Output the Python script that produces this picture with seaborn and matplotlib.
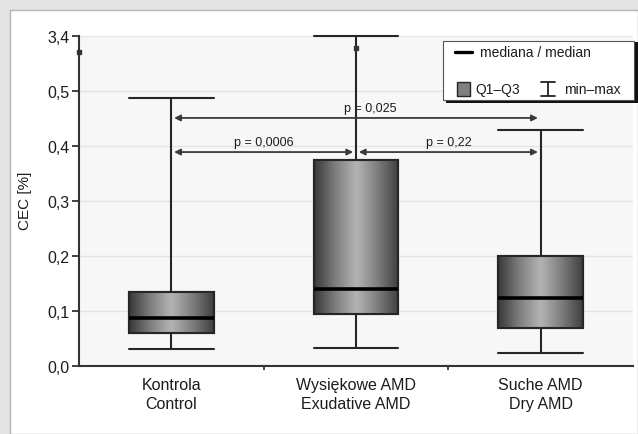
import matplotlib
matplotlib.use("Agg")
import matplotlib.pyplot as plt
from matplotlib.colors import LinearSegmentedColormap
from matplotlib.patches import Rectangle
import numpy as np
import pandas as pd
import seaborn as sns

# values (CEC %)
groups = ["Kontrola\nControl", "Wysiękowe AMD\nExudative AMD", "Suche AMD\nDry AMD"]
mins = [0.031, 0.033, 0.023]
q1 = [0.060, 0.095, 0.070]
medians = [0.088, 0.140, 0.123]
q3 = [0.135, 0.375, 0.200]
maxs = [0.487, 3.4, 0.430]

y_ticks = [0.0, 0.1, 0.2, 0.3, 0.4, 0.5, 3.4]
y_labels = ["0,0", "0,1", "0,2", "0,3", "0,4", "0,5", "3,4"]

# (from group, to group, label)
comparisons = [(0, 2, "p = 0,025"), (0, 1, "p = 0,0006"), (1, 2, "p = 0,22")]


def squash(v):
    """broken axis: everything above 0,55 is pulled down so 3,4 sits at 0,6"""
    return v if v <= 0.55 else 0.55 + (v - 3.35)


W, H = 638, 435


def px(x, y):
    """pixel position of the reference -> figure fraction"""
    return x / W, 1 - y / H


sns.set_theme(style="white")
plt.rcParams["font.family"] = ["Liberation Sans", "DejaVu Sans"]
TXT = "#1c1c1c"

fig = plt.figure(figsize=(W / 100, H / 100), dpi=100, facecolor="#e3e3e3")
fig.add_artist(Rectangle(px(10, 435), (W - 10) / W, (435 - 11) / H,
                         transform=fig.transFigure, facecolor="white",
                         edgecolor="#b5b5b5", lw=1.0, zorder=0))
ax = fig.add_axes([79 / W, 1 - 367 / H, 554 / W, 330 / H])
ax.set_facecolor("#f7f7f7")

# five points per group -> quartiles of the box are exactly the read values
rows = []
for g, a, b, c, d, e in zip(groups, mins, q1, medians, q3, maxs):
    for v in (a, b, c, d, e):
        rows.append({"group": g, "value": squash(v)})
df = pd.DataFrame(rows)

sns.boxplot(data=df, x="group", y="value", order=groups, width=0.46,
            whis=(0, 100), fliersize=0, color="#8c8c8c", linecolor="#262626",
            linewidth=1.5, capwidths=0.46,
            medianprops=dict(color="black", linewidth=2.6), ax=ax)

# shaded (cylinder-like) fill of the boxes
cmap = LinearSegmentedColormap.from_list(
    "box", ["#383838", "#7e7e7e", "#b4b4b4", "#7e7e7e", "#3e3e3e"])
grad = np.linspace(0, 1, 256).reshape(1, -1)
for patch in list(ax.patches):
    ext = patch.get_path().get_extents()
    im = ax.imshow(grad, cmap=cmap, aspect="auto", zorder=2.05,
                   extent=[ext.x0, ext.x1, ext.y0, ext.y1])
    im.set_clip_path(patch)
    ax.add_patch(Rectangle((ext.x0, ext.y0), ext.width, ext.height,
                           facecolor="none", edgecolor="#262626", lw=1.5,
                           zorder=2.2))
for ln in ax.lines:
    ln.set_zorder(2.3)
    ln.set_clip_on(False)

ax.set_xlim(-0.5, 2.5)
ax.set_ylim(0, 0.6)

# axis break marks
ax.plot([-0.5], [0.571], marker="s", ms=3, color="#333333", clip_on=False, zorder=4)
ax.plot([1], [0.578], marker="s", ms=3, color="#333333", clip_on=False, zorder=4)

ax.set_yticks([squash(v) for v in y_ticks])
ax.set_yticklabels(y_labels)
ax.set_xticks(range(len(groups)))
ax.set_xticklabels(groups, linespacing=1.3)
ax.set_xticks([0.5, 1.5], minor=True)
ax.tick_params(axis="y", length=5, width=1.3, color="#333333", labelsize=11.5,
               pad=2, labelcolor=TXT, left=True)
ax.tick_params(axis="x", which="major", length=0, labelsize=11.5, pad=8,
               labelcolor=TXT)
ax.tick_params(axis="x", which="minor", length=3, width=1.3, color="#333333",
               bottom=True)
ax.set_xlabel("")
ax.set_ylabel("")
ax.yaxis.grid(True, color="#e3e3e3", lw=1)
ax.set_axisbelow(True)
for side in ("top", "right"):
    ax.spines[side].set_visible(False)
for side in ("left", "bottom"):
    ax.spines[side].set_color("#333333")
    ax.spines[side].set_linewidth(1.5)

# p-value arrows
arrow_y = {2: 0.451, 1: 0.389}
text_dx = {2: 0.075, 1: 0.0}
for i, j, lab in comparisons:
    y = arrow_y[j - i]
    x0, x1 = i + 0.015, j - 0.015
    ax.annotate("", xy=(x1, y), xytext=(x0, y),
                arrowprops=dict(arrowstyle="<|-|>", color="#3a3a3a", lw=1.3,
                                shrinkA=0, shrinkB=0, mutation_scale=9))
    ax.text((x0 + x1) / 2 + text_dx[j - i], y + 0.008, lab, ha="center",
            va="bottom", fontsize=9, color=TXT)

fig.text(*px(25, 201), "CEC [%]", rotation=90, ha="center", va="center",
         fontsize=11, color=TXT)

# legend drawn by hand (two rows, as in the original)
fig.add_artist(Rectangle(px(446, 104), 192 / W, 61 / H, transform=fig.transFigure,
                         facecolor="#111111", edgecolor="none", zorder=5))
fig.add_artist(Rectangle(px(443, 101), 191 / W, 59 / H, transform=fig.transFigure,
                         facecolor="white", edgecolor="#555555", lw=0.8, zorder=6))
fig.add_artist(plt.Line2D(*zip(px(455, 53), px(472, 53)), transform=fig.transFigure,
                          color="black", lw=2.4, zorder=7))
fig.text(*px(480, 53), "mediana / median", va="center", fontsize=10,
         color=TXT, zorder=7)
fig.add_artist(Rectangle(px(457, 97), 13 / W, 14 / H, transform=fig.transFigure,
                         facecolor="#808080", edgecolor="#262626", lw=1.0, zorder=7))
fig.text(*px(475, 90), "Q1–Q3", va="center", fontsize=10, color=TXT, zorder=7)
for seg in ([(548, 83), (548, 97)], [(541, 83), (555, 83)], [(541, 97), (555, 97)]):
    fig.add_artist(plt.Line2D(*zip(px(*seg[0]), px(*seg[1])),
                              transform=fig.transFigure, color="#222222", lw=1.3,
                              zorder=7))
fig.text(*px(564, 90), "min–max", va="center", fontsize=10, color=TXT, zorder=7)

fig.savefig("out.png", dpi=100, facecolor=fig.get_facecolor())
